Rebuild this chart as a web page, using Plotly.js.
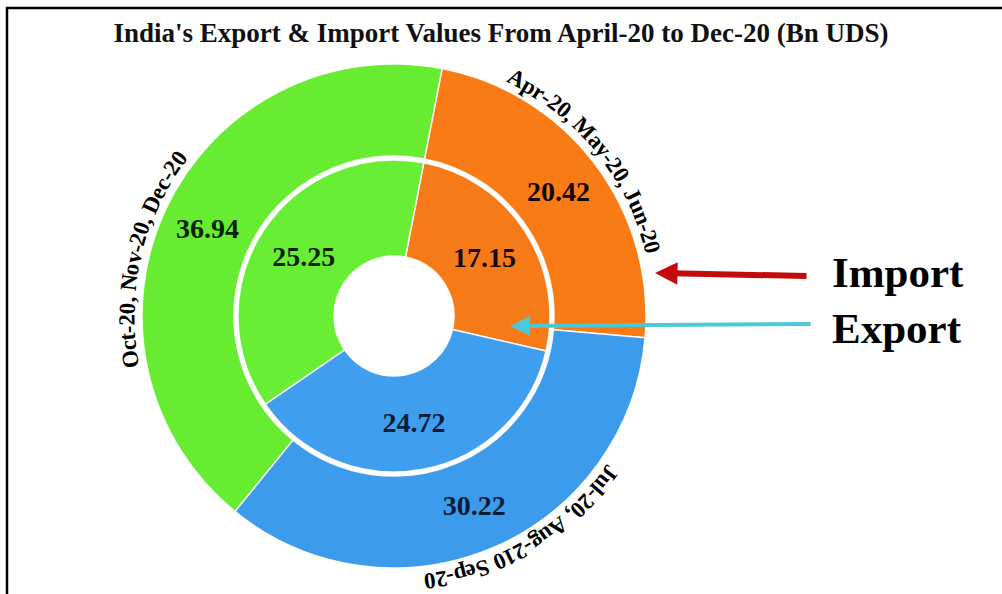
<!DOCTYPE html>
<html>
<head>
<meta charset="utf-8">
<script src="https://cdn.plot.ly/plotly-3.0.1.min.js"></script>
<style>html,body{margin:0;padding:0;background:#fff;}#chart{width:1002px;height:594px;}</style>
</head>
<body>
<div id="chart"></div>
<script>
// ---- data ----
var categories = ['Apr-20, May-20, Jun-20', 'Jul-20, Aug-210 Sep-20', 'Oct-20, Nov-20, Dec-20'];
var importValues = [20.42, 30.22, 36.94];
var exportValues = [17.15, 24.72, 25.25];
var seriesNames = ['Import', 'Export'];
var chartTitle = "India's Export & Import Values From April-20 to Dec-20 (Bn UDS)";

// ---- geometry / style ----
var W = 1002, H = 594;
var cx = 394, cy = 316, R = 252, Rin = 156, Rhole = 60;
var rotationDeg = 11;
var outerColors = ['#F97B16', '#3D9BEB', '#67EC32'];
var innerColors = ['#F77A18', '#3F9EEE', '#69EE36'];
var valueTextColors = ['#140800', '#0a1d38', '#0b2200'];
var serif = 'Liberation Serif, Times New Roman, serif';

function domainFor(r) {
  return {
    x: [(cx - r) / W, (cx + r) / W],
    y: [(H - cy - r) / H, (H - cy + r) / H]
  };
}

var outer = {
  type: 'pie', name: seriesNames[0], labels: categories, values: importValues,
  sort: false, direction: 'clockwise', rotation: rotationDeg,
  hole: (Rin + 4) / R, domain: domainFor(R),
  marker: {colors: outerColors, line: {color: 'rgba(255,255,255,0.9)', width: 1.5}},
  textposition: 'inside', insidetextorientation: 'horizontal',
  texttemplate: '%{value:.2f}',
  textfont: {family: serif, size: 28, color: valueTextColors, weight: 'bold'},
  hoverinfo: 'label+value', showlegend: false
};
var inner = {
  type: 'pie', name: seriesNames[1], labels: categories, values: exportValues,
  sort: false, direction: 'clockwise', rotation: rotationDeg,
  hole: Rhole / Rin, domain: domainFor(Rin),
  marker: {colors: innerColors, line: {color: 'rgba(255,255,255,0.9)', width: 1.5}},
  textposition: 'inside', insidetextorientation: 'horizontal',
  texttemplate: '%{value:.2f}',
  textfont: {family: serif, size: 28, color: valueTextColors, weight: 'bold'},
  hoverinfo: 'label+value', showlegend: false
};

// ---- curved category labels around the outer ring ----
var annotations = [];
var labelFontSize = 23;
var labelR = R + 15;
var labelShift = [-2, -8, -12];
var canvas = document.createElement('canvas');
var ctx = canvas.getContext('2d');
ctx.font = 'bold ' + labelFontSize + 'px "Liberation Serif"';
var total = importValues.reduce(function (a, b) { return a + b; }, 0);
var cum = 0;
for (var i = 0; i < categories.length; i++) {
  var mid = rotationDeg + 360 * (cum + importValues[i] / 2) / total + labelShift[i];
  cum += importValues[i];
  var txt = categories[i];
  var widths = [];
  var tw = 0;
  for (var k = 0; k < txt.length; k++) { var w = ctx.measureText(txt[k]).width; widths.push(w); tw += w; }
  var startRad = mid * Math.PI / 180 - (tw / labelR) / 2;
  var acc = 0;
  for (var k = 0; k < txt.length; k++) {
    var th = startRad + (acc + widths[k] / 2) / labelR;
    acc += widths[k];
    if (txt[k] === ' ') continue;
    var px = cx + labelR * Math.sin(th);
    var py = cy - labelR * Math.cos(th);
    annotations.push({
      text: txt[k], xref: 'paper', yref: 'paper', x: px / W, y: 1 - py / H,
      xanchor: 'center', yanchor: 'middle', showarrow: false,
      textangle: th * 180 / Math.PI,
      font: {family: serif, size: labelFontSize, color: '#000', weight: 'bold'}
    });
  }
}

// ---- series pointers ----
annotations.push({
  text: '', xref: 'paper', yref: 'paper', x: 655 / W, y: 1 - 273 / H,
  ax: 153, ay: 3, showarrow: true, arrowhead: 2, arrowsize: 0.75,
  arrowwidth: 6, arrowcolor: '#C40A0A', standoff: 0, startstandoff: 0
});
annotations.push({
  text: '', xref: 'paper', yref: 'paper', x: 510 / W, y: 1 - 326 / H,
  ax: 302, ay: -2, showarrow: true, arrowhead: 2, arrowsize: 1,
  arrowwidth: 4, arrowcolor: '#4CC8D6', standoff: 0, startstandoff: 0
});
annotations.push({
  text: seriesNames[0], xref: 'paper', yref: 'paper', x: 830 / W, y: 1 - 272 / H,
  xanchor: 'left', yanchor: 'middle', showarrow: false,
  font: {family: serif, size: 43, color: '#000', weight: 'bold'}
});
annotations.push({
  text: seriesNames[1], xref: 'paper', yref: 'paper', x: 830 / W, y: 1 - 328 / H,
  xanchor: 'left', yanchor: 'middle', showarrow: false,
  font: {family: serif, size: 43, color: '#000', weight: 'bold'}
});

var layout = {
  width: W, height: H,
  margin: {l: 0, r: 0, t: 0, b: 0},
  paper_bgcolor: '#fff', plot_bgcolor: '#fff',
  showlegend: false,
  title: {
    text: chartTitle, x: 501 / W, xanchor: 'center', y: 1 - 33 / H, yanchor: 'middle',
    font: {family: serif, size: 27, color: '#111', weight: 'bold'}
  },
  annotations: annotations,
  shapes: [
    {type: 'line', xref: 'paper', yref: 'paper', x0: 6 / W, x1: 1, y0: 1 - 8 / H, y1: 1 - 8 / H, line: {color: '#000', width: 2.5}},
    {type: 'line', xref: 'paper', yref: 'paper', x0: 7 / W, x1: 7 / W, y0: 0, y1: 1 - 7 / H, line: {color: '#000', width: 2.5}}
  ]
};

Plotly.newPlot('chart', [outer, inner], layout, {displayModeBar: false, staticPlot: true});
</script>
</body>
</html>
